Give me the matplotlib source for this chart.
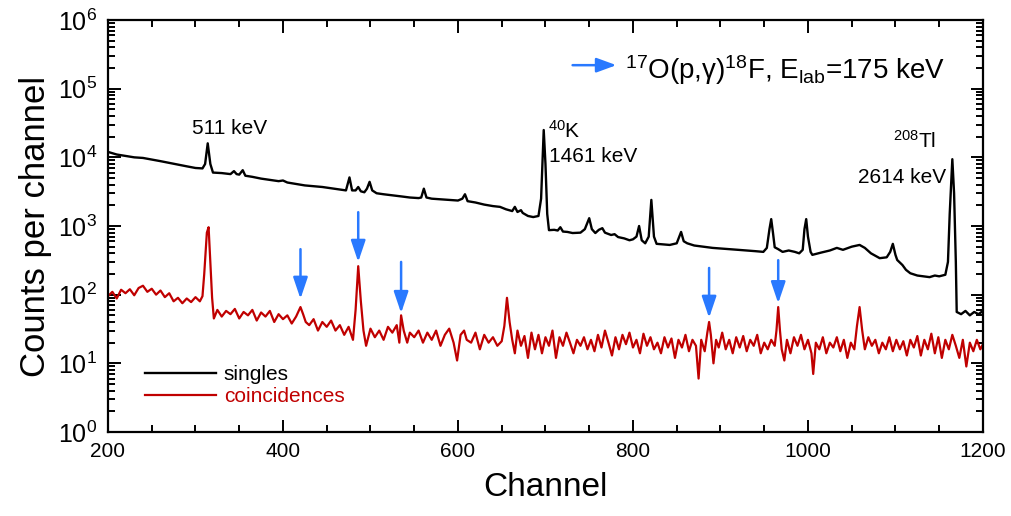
"""plot.py -- singles and coincidence gamma spectra, 17O(p,g)18F at 175 keV"""

import numpy as np
import matplotlib
matplotlib.use("Agg")
import matplotlib.pyplot as plt


# =============================================================================
# Data
# =============================================================================

# singles spectrum (black)
singles_ch = [200, 205, 210, 220, 230, 240, 250, 260, 270, 280, 290, 300, 308,
              311, 314, 317, 320, 330, 340, 344, 347, 350, 354, 357, 365, 375,
              385, 395, 400, 405, 415, 425, 435, 445, 455, 465, 472, 476, 479,
              483, 486, 489, 493, 496, 499, 502, 507, 515, 525, 535, 545, 555,
              558, 561, 564, 570, 580, 590, 600, 605, 608, 611, 620, 630, 640,
              648, 655, 662, 665, 668, 672, 674, 680, 686, 692, 695, 698, 700,
              702, 704, 710, 714, 717, 720, 725, 731, 740, 745, 750, 753, 757,
              761, 765, 768, 775, 779, 783, 790, 796, 800, 804, 807, 810, 814,
              818, 821, 824, 827, 835, 842, 850, 855, 858, 862, 870, 880, 891,
              900, 910, 920, 930, 940, 949, 953, 956, 958, 960, 962, 966, 971,
              978, 985, 990, 994, 996, 998, 1000, 1003, 1005, 1015, 1025, 1033,
              1040, 1050, 1059, 1065, 1072, 1082, 1090, 1094, 1097, 1100, 1102,
              1108, 1112, 1117, 1125, 1132, 1139, 1145, 1150, 1157, 1160, 1162,
              1165, 1167, 1169, 1170, 1175, 1180, 1185, 1190, 1195, 1200]
singles = [12000, 11500, 11000, 10500, 10000, 9800, 9300, 8800, 8300, 7800,
           7400, 7000, 6900, 8000, 16000, 8000, 6000, 5900, 5700, 6300, 5700,
           5600, 6500, 5400, 5200, 4900, 4700, 4500, 4600, 4300, 4100, 3900,
           3800, 3700, 3550, 3400, 3300, 5100, 3300, 3300, 3700, 3200, 3100,
           3500, 4400, 3300, 3000, 2900, 2800, 2700, 2600, 2550, 2600, 3500,
           2600, 2500, 2450, 2400, 2350, 2500, 2900, 2300, 2200, 2050, 1950,
           1900, 1750, 1650, 1900, 1600, 1700, 1550, 1400, 1350, 1400, 2500,
           25000, 8000, 1500, 870, 880, 860, 960, 830, 820, 790, 800, 900, 1300,
           900, 790, 880, 930, 800, 740, 760, 690, 660, 620, 640, 700, 1000,
           620, 560, 700, 2400, 700, 550, 540, 530, 560, 820, 600, 560, 520,
           500, 480, 470, 460, 450, 440, 430, 420, 480, 900, 1260, 800, 490,
           460, 420, 440, 420, 400, 450, 900, 1260, 700, 420, 380, 410, 440,
           480, 450, 500, 530, 480, 400, 340, 350, 420, 550, 380, 320, 270, 230,
           205, 190, 185, 180, 190, 185, 195, 300, 1500, 9400, 3000, 300, 56,
           52, 58, 50, 56, 52, 58]

# coincidence spectrum (red)
coinc_ch = [200, 205, 210, 215, 220, 225, 230, 235, 240, 245, 250, 255, 260,
            265, 270, 275, 280, 285, 290, 295, 300, 305, 308, 310, 313, 315,
            317, 319, 321, 325, 330, 335, 340, 345, 350, 355, 360, 365, 370,
            375, 380, 385, 390, 395, 400, 405, 410, 415, 420, 423, 426, 430,
            435, 440, 445, 450, 455, 460, 465, 470, 475, 480, 483, 486, 489,
            492, 495, 500, 505, 510, 515, 520, 525, 530, 533, 535, 538, 542,
            545, 550, 555, 560, 565, 570, 575, 580, 585, 590, 595, 599, 603,
            607, 610, 615, 620, 625, 630, 635, 640, 645, 650, 653, 656, 659,
            662, 665, 668, 672, 676, 680, 684, 688, 692, 696, 700, 704, 708,
            712, 716, 720, 724, 728, 732, 736, 740, 744, 748, 752, 756, 760,
            764, 768, 772, 776, 780, 784, 788, 792, 796, 800, 804, 808, 812,
            816, 820, 824, 828, 832, 836, 840, 844, 848, 852, 856, 860, 864,
            868, 872, 875, 878, 882, 885, 887, 889, 892, 895, 898, 902, 906,
            910, 914, 918, 922, 926, 930, 934, 938, 942, 946, 950, 954, 958,
            962, 964, 966, 968, 970, 973, 976, 980, 984, 988, 992, 996, 1000,
            1004, 1006, 1009, 1013, 1017, 1021, 1025, 1029, 1033, 1037, 1041,
            1045, 1049, 1053, 1056, 1059, 1062, 1065, 1069, 1073, 1077, 1081,
            1085, 1089, 1093, 1097, 1101, 1105, 1109, 1113, 1117, 1121, 1125,
            1129, 1133, 1137, 1141, 1145, 1149, 1153, 1157, 1161, 1165, 1169,
            1173, 1177, 1181, 1185, 1189, 1193, 1197, 1200]
coinc = [95, 110, 88, 118, 105, 120, 98, 125, 135, 110, 122, 100, 115, 92,
         105, 80, 90, 75, 88, 78, 92, 80, 95, 200, 800, 960, 300, 90, 45, 60,
         48, 58, 52, 62, 45, 56, 50, 60, 42, 55, 48, 58, 40, 52, 44, 50, 38,
         48, 66, 52, 40, 36, 44, 30, 40, 34, 42, 30, 36, 26, 34, 22, 60, 260,
         80, 30, 18, 32, 24, 30, 22, 34, 28, 36, 20, 50, 30, 20, 28, 24, 30,
         20, 28, 22, 30, 18, 26, 32, 20, 11, 26, 30, 22, 20, 28, 16, 26, 20,
         24, 18, 21, 35, 90, 40, 22, 14, 30, 18, 25, 12, 28, 16, 26, 14, 24,
         18, 30, 12, 24, 18, 28, 20, 14, 22, 18, 24, 16, 22, 15, 26, 17, 30,
         20, 13, 24, 16, 26, 19, 28, 17, 22, 14, 27, 18, 24, 16, 20, 14, 24,
         17, 23, 12, 22, 17, 26, 15, 22, 18, 6, 22, 15, 28, 40, 26, 10, 22,
         17, 28, 16, 22, 14, 24, 17, 25, 15, 22, 18, 26, 14, 20, 16, 22, 18,
         30, 66, 30, 16, 11, 22, 14, 24, 18, 26, 16, 22, 14, 7, 20, 16, 24,
         14, 20, 17, 24, 15, 22, 12, 20, 16, 35, 66, 30, 16, 24, 18, 22, 14,
         20, 16, 24, 15, 22, 16, 21, 13, 22, 17, 25, 13, 22, 16, 27, 14, 24,
         12, 22, 16, 26, 18, 12, 22, 9, 20, 15, 22, 16, 19]

# blue arrows marking the 17O(p,g)18F lines: channel, tail and tip heights
arrow_ch = [420, 486, 535, 887, 966]
arrow_top = [460, 1590, 300, 245, 318]
arrow_tip = [87, 300, 54, 46, 75]

# =============================================================================
# Plot
# =============================================================================

plt.rcParams['font.family'] = ['Liberation Sans', 'DejaVu Sans']
plt.rcParams['mathtext.fontset'] = 'custom'
plt.rcParams['mathtext.rm'] = 'Liberation Sans'
plt.rcParams['mathtext.it'] = 'Liberation Sans:italic'

black = '#000000'
red = '#c00000'
blue = '#2979ff'

fig = plt.figure(figsize=(10.12, 5.16), dpi=100)
ax = fig.add_axes([0.1067, 0.1628, 0.8646, 0.7984])

ax.plot(singles_ch, singles, color=black, lw=1.7, label="singles")
ax.plot(coinc_ch, coinc, color=red, lw=1.6, label="coincidences")

for c, top, tip in zip(arrow_ch, arrow_top, arrow_tip):
    ax.annotate("", xy=(c, tip), xytext=(c, top),
                arrowprops=dict(arrowstyle='-|>,head_length=0.65,head_width=0.22',
                                color=blue, lw=1.8, mutation_scale=20,
                                shrinkA=0, shrinkB=0))

# reaction label with its arrow
ax.annotate("", xy=(781, 2.2e5), xytext=(731, 2.2e5),
            arrowprops=dict(arrowstyle='-|>,head_length=0.6,head_width=0.22',
                            color=blue, lw=1.8, mutation_scale=20,
                            shrinkA=0, shrinkB=0))
ax.text(791, 1.4e5, r'$^{17}$O(p,γ)$^{18}$F, E$_{\mathrm{lab}}$=175 keV',
        fontsize=20, ha='left', va='baseline')

# peak labels
ax.text(339, 2.2e4, "511 keV", fontsize=15, ha='center', va='baseline')
ax.text(703, 1.95e4, r'$^{40}$K', fontsize=15, ha='left', va='baseline')
ax.text(704, 8.5e3, "1461 keV", fontsize=15, ha='left', va='baseline')
ax.text(1097, 1.4e4, r'$^{208}$Tl', fontsize=15, ha='left', va='baseline')
ax.text(1057, 4.2e3, "2614 keV", fontsize=15, ha='left', va='baseline')

# axes settings
ax.set_yscale('log')
ax.set_xlim(200, 1200)
ax.set_ylim(1, 1e6)
ax.set_xticks(np.arange(200, 1201, 200))
ax.set_xticks(np.arange(200, 1201, 50), minor=True)
ax.yaxis.set_major_locator(matplotlib.ticker.LogLocator(base=10, numticks=10))
ax.yaxis.set_minor_locator(matplotlib.ticker.LogLocator(base=10, subs=np.arange(2, 10), numticks=10))

for s in ax.spines.values():
    s.set_linewidth(1.6)
ax.tick_params(which='both', direction='in', top=True, right=True, width=1.4)
ax.tick_params(which='major', length=9)
ax.tick_params(which='minor', length=5)
ax.tick_params(axis='x', labelsize=15, pad=7)
ax.tick_params(axis='y', labelsize=18, pad=8)

ax.set_xlabel("Channel", fontsize=24, labelpad=8)
ax.set_ylabel("Counts per channel", fontsize=25, labelpad=4)

leg = ax.legend(loc='upper left', bbox_to_anchor=(0.042, 0.162), frameon=False,
                fontsize=15, handlelength=3.4, handletextpad=0.4,
                labelspacing=0.15, borderpad=0, borderaxespad=0,
                labelcolor='linecolor')

plt.savefig("out.png", dpi=100)
